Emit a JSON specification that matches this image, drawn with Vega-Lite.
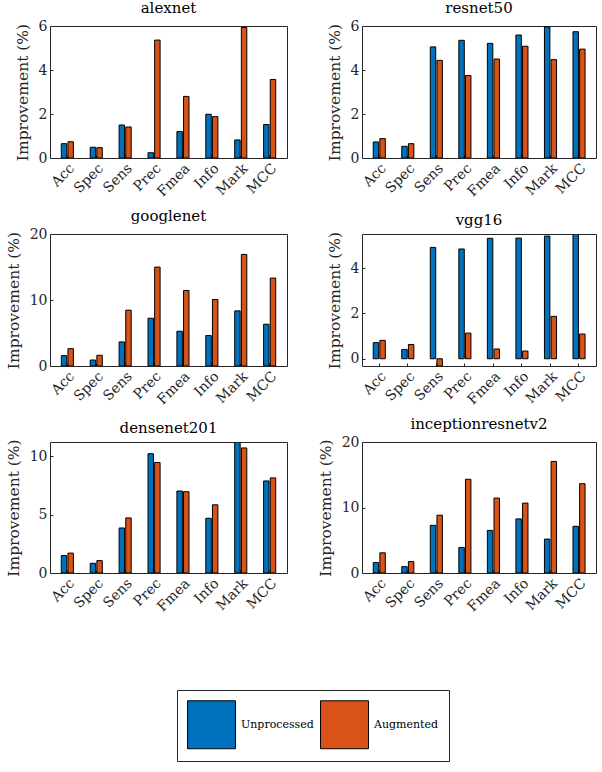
{
"$schema": "https://vega.github.io/schema/vega-lite/v6.json",
"background": "white",
"padding": {"left": 5, "top": 0, "right": 5, "bottom": 5},
"bounds": "flush",
"columns": 2,
"spacing": {"row": 76, "column": 75},
"datasets": {"d": [
{"net":"alexnet","metric":"Acc","method":"Unprocessed","value":0.65},
{"net":"alexnet","metric":"Spec","method":"Unprocessed","value":0.49},
{"net":"alexnet","metric":"Sens","method":"Unprocessed","value":1.50},
{"net":"alexnet","metric":"Prec","method":"Unprocessed","value":0.24},
{"net":"alexnet","metric":"Fmea","method":"Unprocessed","value":1.20},
{"net":"alexnet","metric":"Info","method":"Unprocessed","value":1.99},
{"net":"alexnet","metric":"Mark","method":"Unprocessed","value":0.82},
{"net":"alexnet","metric":"MCC","method":"Unprocessed","value":1.52},
{"net":"alexnet","metric":"Acc","method":"Augmented","value":0.74},
{"net":"alexnet","metric":"Spec","method":"Augmented","value":0.47},
{"net":"alexnet","metric":"Sens","method":"Augmented","value":1.41},
{"net":"alexnet","metric":"Prec","method":"Augmented","value":5.36},
{"net":"alexnet","metric":"Fmea","method":"Augmented","value":2.80},
{"net":"alexnet","metric":"Info","method":"Augmented","value":1.88},
{"net":"alexnet","metric":"Mark","method":"Augmented","value":5.93},
{"net":"alexnet","metric":"MCC","method":"Augmented","value":3.57},
{"net":"resnet50","metric":"Acc","method":"Unprocessed","value":0.73},
{"net":"resnet50","metric":"Spec","method":"Unprocessed","value":0.53},
{"net":"resnet50","metric":"Sens","method":"Unprocessed","value":5.05},
{"net":"resnet50","metric":"Prec","method":"Unprocessed","value":5.35},
{"net":"resnet50","metric":"Fmea","method":"Unprocessed","value":5.21},
{"net":"resnet50","metric":"Info","method":"Unprocessed","value":5.59},
{"net":"resnet50","metric":"Mark","method":"Unprocessed","value":5.96},
{"net":"resnet50","metric":"MCC","method":"Unprocessed","value":5.74},
{"net":"resnet50","metric":"Acc","method":"Augmented","value":0.88},
{"net":"resnet50","metric":"Spec","method":"Augmented","value":0.65},
{"net":"resnet50","metric":"Sens","method":"Augmented","value":4.44},
{"net":"resnet50","metric":"Prec","method":"Augmented","value":3.75},
{"net":"resnet50","metric":"Fmea","method":"Augmented","value":4.50},
{"net":"resnet50","metric":"Info","method":"Augmented","value":5.08},
{"net":"resnet50","metric":"Mark","method":"Augmented","value":4.47},
{"net":"resnet50","metric":"MCC","method":"Augmented","value":4.95},
{"net":"googlenet","metric":"Acc","method":"Unprocessed","value":1.57},
{"net":"googlenet","metric":"Spec","method":"Unprocessed","value":0.91},
{"net":"googlenet","metric":"Sens","method":"Unprocessed","value":3.65},
{"net":"googlenet","metric":"Prec","method":"Unprocessed","value":7.24},
{"net":"googlenet","metric":"Fmea","method":"Unprocessed","value":5.27},
{"net":"googlenet","metric":"Info","method":"Unprocessed","value":4.61},
{"net":"googlenet","metric":"Mark","method":"Unprocessed","value":8.35},
{"net":"googlenet","metric":"MCC","method":"Unprocessed","value":6.33},
{"net":"googlenet","metric":"Acc","method":"Augmented","value":2.63},
{"net":"googlenet","metric":"Spec","method":"Augmented","value":1.62},
{"net":"googlenet","metric":"Sens","method":"Augmented","value":8.46},
{"net":"googlenet","metric":"Prec","method":"Augmented","value":14.99},
{"net":"googlenet","metric":"Fmea","method":"Augmented","value":11.44},
{"net":"googlenet","metric":"Info","method":"Augmented","value":10.08},
{"net":"googlenet","metric":"Mark","method":"Augmented","value":16.91},
{"net":"googlenet","metric":"MCC","method":"Augmented","value":13.32},
{"net":"vgg16","metric":"Acc","method":"Unprocessed","value":0.71},
{"net":"vgg16","metric":"Spec","method":"Unprocessed","value":0.41},
{"net":"vgg16","metric":"Sens","method":"Unprocessed","value":4.91},
{"net":"vgg16","metric":"Prec","method":"Unprocessed","value":4.84},
{"net":"vgg16","metric":"Fmea","method":"Unprocessed","value":5.31},
{"net":"vgg16","metric":"Info","method":"Unprocessed","value":5.32},
{"net":"vgg16","metric":"Mark","method":"Unprocessed","value":5.41},
{"net":"vgg16","metric":"MCC","method":"Unprocessed","value":5.50},
{"net":"vgg16","metric":"Acc","method":"Augmented","value":0.81},
{"net":"vgg16","metric":"Spec","method":"Augmented","value":0.63},
{"net":"vgg16","metric":"Sens","method":"Augmented","value":-0.32},
{"net":"vgg16","metric":"Prec","method":"Augmented","value":1.13},
{"net":"vgg16","metric":"Fmea","method":"Augmented","value":0.43},
{"net":"vgg16","metric":"Info","method":"Augmented","value":0.34},
{"net":"vgg16","metric":"Mark","method":"Augmented","value":1.87},
{"net":"vgg16","metric":"MCC","method":"Augmented","value":1.09},
{"net":"densenet201","metric":"Acc","method":"Unprocessed","value":1.49},
{"net":"densenet201","metric":"Spec","method":"Unprocessed","value":0.83},
{"net":"densenet201","metric":"Sens","method":"Unprocessed","value":3.85},
{"net":"densenet201","metric":"Prec","method":"Unprocessed","value":10.20},
{"net":"densenet201","metric":"Fmea","method":"Unprocessed","value":7.01},
{"net":"densenet201","metric":"Info","method":"Unprocessed","value":4.68},
{"net":"densenet201","metric":"Mark","method":"Unprocessed","value":11.20},
{"net":"densenet201","metric":"MCC","method":"Unprocessed","value":7.87},
{"net":"densenet201","metric":"Acc","method":"Augmented","value":1.70},
{"net":"densenet201","metric":"Spec","method":"Augmented","value":1.06},
{"net":"densenet201","metric":"Sens","method":"Augmented","value":4.71},
{"net":"densenet201","metric":"Prec","method":"Augmented","value":9.45},
{"net":"densenet201","metric":"Fmea","method":"Augmented","value":6.95},
{"net":"densenet201","metric":"Info","method":"Augmented","value":5.83},
{"net":"densenet201","metric":"Mark","method":"Augmented","value":10.69},
{"net":"densenet201","metric":"MCC","method":"Augmented","value":8.13},
{"net":"inceptionresnetv2","metric":"Acc","method":"Unprocessed","value":1.59},
{"net":"inceptionresnetv2","metric":"Spec","method":"Unprocessed","value":0.97},
{"net":"inceptionresnetv2","metric":"Sens","method":"Unprocessed","value":7.28},
{"net":"inceptionresnetv2","metric":"Prec","method":"Unprocessed","value":3.90},
{"net":"inceptionresnetv2","metric":"Fmea","method":"Unprocessed","value":6.51},
{"net":"inceptionresnetv2","metric":"Info","method":"Unprocessed","value":8.26},
{"net":"inceptionresnetv2","metric":"Mark","method":"Unprocessed","value":5.18},
{"net":"inceptionresnetv2","metric":"MCC","method":"Unprocessed","value":7.13},
{"net":"inceptionresnetv2","metric":"Acc","method":"Augmented","value":3.08},
{"net":"inceptionresnetv2","metric":"Spec","method":"Augmented","value":1.74},
{"net":"inceptionresnetv2","metric":"Sens","method":"Augmented","value":8.82},
{"net":"inceptionresnetv2","metric":"Prec","method":"Augmented","value":14.31},
{"net":"inceptionresnetv2","metric":"Fmea","method":"Augmented","value":11.44},
{"net":"inceptionresnetv2","metric":"Info","method":"Augmented","value":10.67},
{"net":"inceptionresnetv2","metric":"Mark","method":"Augmented","value":17.03},
{"net":"inceptionresnetv2","metric":"MCC","method":"Augmented","value":13.64}
]},
"data": {"name": "d"},
"concat": [
{"title":"alexnet","width":237,"height":132,
 "transform":[{"filter":"datum.net==='alexnet'"}],
 "mark":{"type":"bar","stroke":"#000","strokeWidth":1,"clip":true},
 "encoding":{
  "x":{"field":"metric","type":"nominal","sort":["Acc","Spec","Sens","Prec","Fmea","Info","Mark","MCC"],"title":null},
  "xOffset":{"field":"method","type":"nominal","sort":["Unprocessed","Augmented"]},
  "y":{"field":"value","type":"quantitative","title":"Improvement (%)","scale":{"domain":[0,6],"nice":false,"zero":false},"axis":{"values":[0,2,4,6]}},
  "color":{"field":"method","type":"nominal","title":null,"sort":["Unprocessed","Augmented"],"scale":{"domain":["Unprocessed","Augmented"],"range":["#0072BD","#D95319"]}}
 }},
{"title":"resnet50","width":234,"height":132,
 "transform":[{"filter":"datum.net==='resnet50'"}],
 "mark":{"type":"bar","stroke":"#000","strokeWidth":1,"clip":true},
 "encoding":{
  "x":{"field":"metric","type":"nominal","sort":["Acc","Spec","Sens","Prec","Fmea","Info","Mark","MCC"],"title":null},
  "xOffset":{"field":"method","type":"nominal","sort":["Unprocessed","Augmented"]},
  "y":{"field":"value","type":"quantitative","title":"Improvement (%)","scale":{"domain":[0,6],"nice":false,"zero":false},"axis":{"values":[0,2,4,6]}},
  "color":{"field":"method","type":"nominal","title":null,"sort":["Unprocessed","Augmented"],"scale":{"domain":["Unprocessed","Augmented"],"range":["#0072BD","#D95319"]}}
 }},
{"title":"googlenet","width":237,"height":132,
 "transform":[{"filter":"datum.net==='googlenet'"}],
 "mark":{"type":"bar","stroke":"#000","strokeWidth":1,"clip":true},
 "encoding":{
  "x":{"field":"metric","type":"nominal","sort":["Acc","Spec","Sens","Prec","Fmea","Info","Mark","MCC"],"title":null},
  "xOffset":{"field":"method","type":"nominal","sort":["Unprocessed","Augmented"]},
  "y":{"field":"value","type":"quantitative","title":"Improvement (%)","scale":{"domain":[0,20],"nice":false,"zero":false},"axis":{"values":[0,10,20]}},
  "color":{"field":"method","type":"nominal","title":null,"sort":["Unprocessed","Augmented"],"scale":{"domain":["Unprocessed","Augmented"],"range":["#0072BD","#D95319"]}}
 }},
{"title":"vgg16","width":234,"height":132,
 "transform":[{"filter":"datum.net==='vgg16'"}],
 "mark":{"type":"bar","stroke":"#000","strokeWidth":1,"clip":true},
 "encoding":{
  "x":{"field":"metric","type":"nominal","sort":["Acc","Spec","Sens","Prec","Fmea","Info","Mark","MCC"],"title":null},
  "xOffset":{"field":"method","type":"nominal","sort":["Unprocessed","Augmented"]},
  "y":{"field":"value","type":"quantitative","title":"Improvement (%)","scale":{"domain":[-0.32,5.5],"nice":false,"zero":false},"axis":{"values":[0,2,4]}},
  "color":{"field":"method","type":"nominal","title":null,"sort":["Unprocessed","Augmented"],"scale":{"domain":["Unprocessed","Augmented"],"range":["#0072BD","#D95319"]}}
 }},
{"title":"densenet201","width":237,"height":131,
 "transform":[{"filter":"datum.net==='densenet201'"}],
 "mark":{"type":"bar","stroke":"#000","strokeWidth":1,"clip":true},
 "encoding":{
  "x":{"field":"metric","type":"nominal","sort":["Acc","Spec","Sens","Prec","Fmea","Info","Mark","MCC"],"title":null},
  "xOffset":{"field":"method","type":"nominal","sort":["Unprocessed","Augmented"]},
  "y":{"field":"value","type":"quantitative","title":"Improvement (%)","scale":{"domain":[0,11.2],"nice":false,"zero":false},"axis":{"values":[0,5,10]}},
  "color":{"field":"method","type":"nominal","title":null,"sort":["Unprocessed","Augmented"],"scale":{"domain":["Unprocessed","Augmented"],"range":["#0072BD","#D95319"]}}
 }},
{"title":"inceptionresnetv2","width":234,"height":131,
 "transform":[{"filter":"datum.net==='inceptionresnetv2'"}],
 "mark":{"type":"bar","stroke":"#000","strokeWidth":1,"clip":true},
 "encoding":{
  "x":{"field":"metric","type":"nominal","sort":["Acc","Spec","Sens","Prec","Fmea","Info","Mark","MCC"],"title":null},
  "xOffset":{"field":"method","type":"nominal","sort":["Unprocessed","Augmented"]},
  "y":{"field":"value","type":"quantitative","title":"Improvement (%)","scale":{"domain":[0,20],"nice":false,"zero":false},"axis":{"values":[0,10,20]}},
  "color":{"field":"method","type":"nominal","title":null,"sort":["Unprocessed","Augmented"],"scale":{"domain":["Unprocessed","Augmented"],"range":["#0072BD","#D95319"]}}
 }}
],
"config": {
 "font": "DejaVu Serif",
 "view": {"stroke": "#262626", "strokeWidth": 1},
 "scale": {"bandPaddingInner": 0, "bandPaddingOuter": 0, "offsetBandPaddingInner": 0.18, "offsetBandPaddingOuter": 0.83},
 "title": {"font": "DejaVu Serif", "fontSize": 15, "fontWeight": "normal", "color": "#000", "anchor": "middle", "frame": "group", "offset": 3},
 "axis": {"labelFont": "DejaVu Serif", "labelFontSize": 14, "labelColor": "#262626", "titleFont": "DejaVu Serif", "titleFontSize": 15.5, "titleFontWeight": "normal", "titleColor": "#262626", "domain": false, "grid": false, "tickColor": "#262626", "tickSize": -3, "labelPadding": 6},
 "axisX": {"labelAngle": -45, "labelAlign": "right", "labelBaseline": "top"},
 "axisY": {"titlePadding": 8},
 "legend": {"orient": "none", "legendX": 127, "legendY": 664, "direction": "horizontal", "symbolType": "square", "symbolSize": 2300, "symbolStrokeColor": "#000", "symbolStrokeWidth": 1, "symbolOpacity": 1, "labelFont": "DejaVu Serif", "labelFontSize": 11, "labelColor": "#000", "labelLimit": 200, "labelOffset": 5, "columnPadding": 4, "strokeColor": "#262626", "padding": 10, "fillColor": "white"}
}
}
